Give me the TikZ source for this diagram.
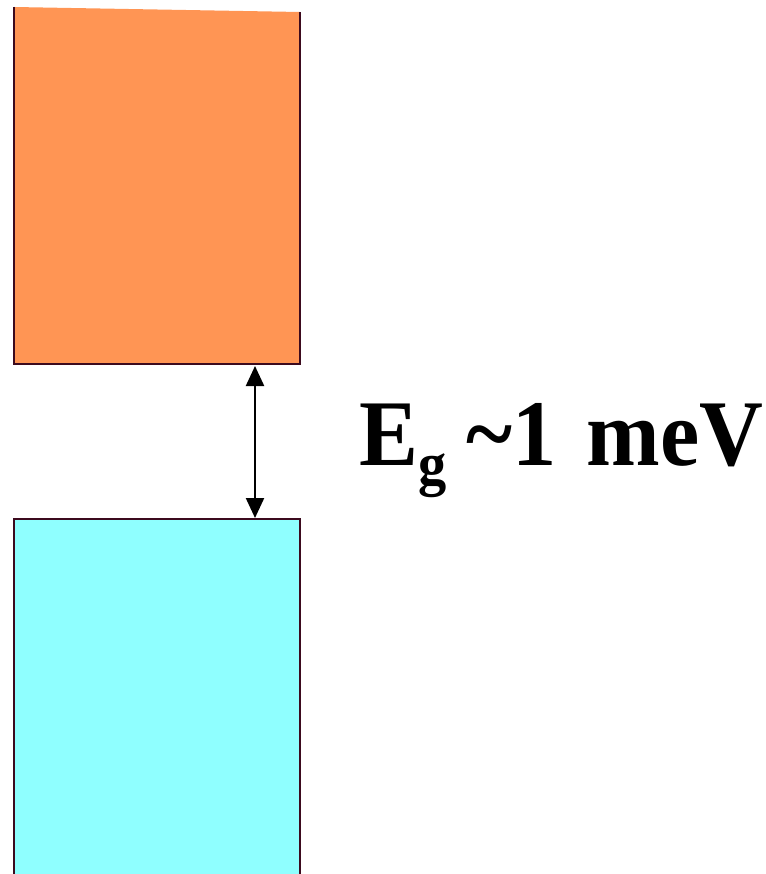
\documentclass[tikz,border=0pt]{standalone}
\usepackage{fontspec}
\setmainfont{Liberation Serif}
\newfontfamily\labelfont[FakeStretch=0.94]{Liberation Serif}
\usetikzlibrary{arrows.meta}
\definecolor{bandO}{RGB}{255,149,84}
\definecolor{bandC}{RGB}{143,255,255}
\definecolor{bandEdge}{RGB}{60,10,30}
\tikzset{
  bandline/.style={draw=bandEdge, line width=2.2pt},
  gaparrow/.style={line width=2.2pt, {Triangle[length=20pt,width=18pt]}-{Triangle[length=20pt,width=18pt]}},
  gaplabel/.style={anchor=base west, inner sep=0pt, font=\labelfont\fontsize{94}{94}\selectfont\bfseries}
}
\begin{document}
\begin{tikzpicture}[x=1pt,y=-1pt]
\useasboundingbox (0,0) rectangle (765,874);
% conduction band
\fill[bandO] (14,7) -- (300,12) -- (300,364) -- (14,364) -- cycle;
\draw[bandline] (14,7) -- (14,364) -- (300,364) -- (300,12);
% valence band
\fill[bandC] (14,519) rectangle (300,874);
\draw[bandline] (14,874) -- (14,519) -- (300,519) -- (300,874);
% gap arrow
\coordinate (cbBottom) at (255,366);
\coordinate (vbTop) at (255,518);
\draw[gaparrow] (cbBottom) -- (vbTop);
\node[gaplabel] (gap) at (359,465) {E\raisebox{-19pt}{\fontsize{60}{60}\selectfont g}\hspace{20pt}\char"7E 1\hspace{30pt}meV};
\end{tikzpicture}
\end{document}
